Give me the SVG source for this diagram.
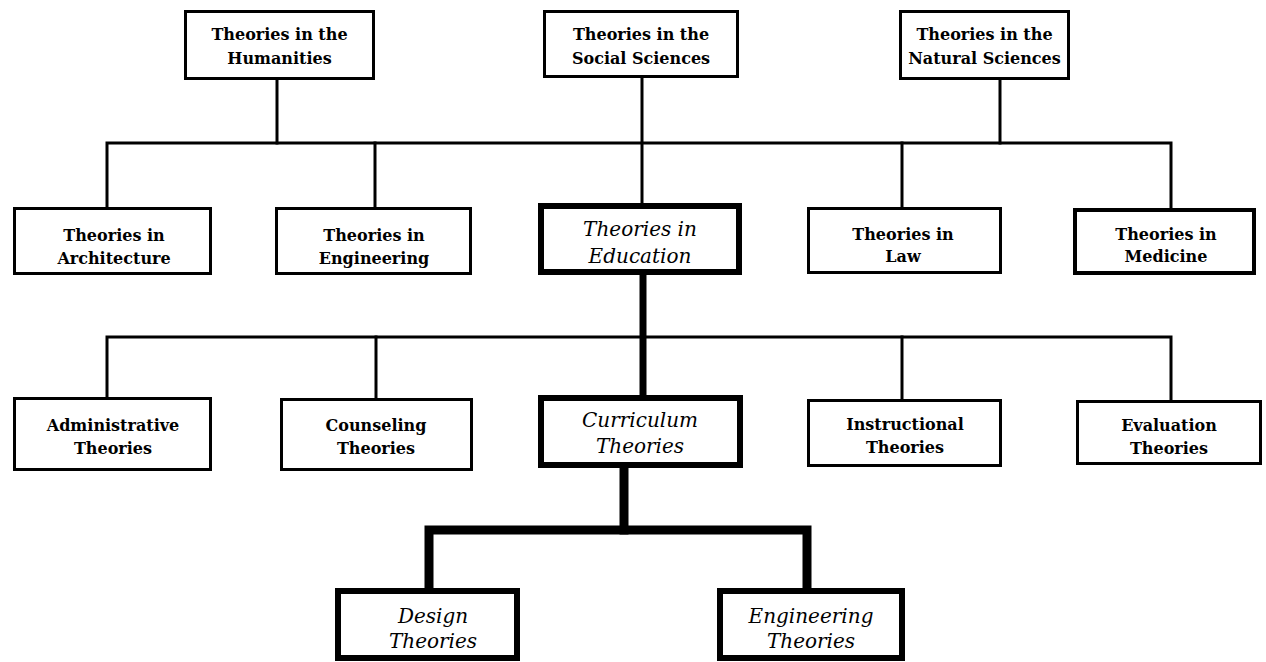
<svg xmlns="http://www.w3.org/2000/svg" width="1266" height="662" viewBox="0 0 1266 662">
<style>
.box{fill:#fff;stroke:#000;stroke-width:3}
.thick{stroke-width:6}
.ln{fill:none;stroke:#000;stroke-width:3;stroke-linecap:square}
.lnb{fill:none;stroke:#000;stroke-width:7;stroke-linecap:square}
.lnbb{fill:none;stroke:#000;stroke-width:9;stroke-linecap:square}
text{font-family:"DejaVu Serif","Liberation Serif",serif;text-anchor:middle;fill:#000}
.t{font-weight:bold;font-size:16px}
.it{font-style:italic;font-size:20px}
</style>
<rect width="1266" height="662" fill="#fff"/>
<g id="connectors">
<path class="ln" d="M277,80 V143"/>
<path class="ln" d="M1000,80 V143"/>
<path class="ln" d="M642,78 V203"/>
<path class="ln" d="M107,208 V143 H1171 V208"/>
<path class="ln" d="M375,143 V208"/>
<path class="ln" d="M902,143 V208"/>
<path class="ln" d="M107,398 V337 H1171 V400"/>
<path class="ln" d="M376,337 V398"/>
<path class="ln" d="M902,337 V399"/>
<path class="lnb" d="M643,275 V395"/>
<path class="lnbb" d="M624,468 V530"/>
<path class="lnbb" d="M429,588 V530 H807 V588"/>
</g>
<g id="humanities"><rect class="box" x="185.5" y="11.5" width="188" height="67"/><text class="t" x="279.5" y="40">Theories in the</text><text class="t" x="279.5" y="64">Humanities</text></g>
<g id="social"><rect class="box" x="544.5" y="11.5" width="193" height="65"/><text class="t" x="641" y="40">Theories in the</text><text class="t" x="641" y="64">Social Sciences</text></g>
<g id="natural"><rect class="box" x="900.5" y="11.5" width="168" height="67"/><text class="t" x="984.5" y="40">Theories in the</text><text class="t" x="984.5" y="64">Natural Sciences</text></g>
<g id="architecture"><rect class="box" x="14.5" y="208.5" width="196" height="65"/><text class="t" x="114" y="241">Theories in</text><text class="t" x="114" y="264">Architecture</text></g>
<g id="engineering"><rect class="box" x="276.5" y="208.5" width="194" height="65"/><text class="t" x="374" y="241">Theories in</text><text class="t" x="374" y="264">Engineering</text></g>
<g id="education"><rect class="box thick" x="541" y="206" width="198" height="66"/><text class="it" x="640" y="236">Theories in</text><text class="it" x="640" y="263">Education</text></g>
<g id="law"><rect class="box" x="808.5" y="208.5" width="192" height="64"/><text class="t" x="903" y="240">Theories in</text><text class="t" x="903" y="262">Law</text></g>
<g id="medicine"><rect class="box" x="1075" y="210" width="179" height="63" style="stroke-width:4"/><text class="t" x="1166" y="240">Theories in</text><text class="t" x="1166" y="262">Medicine</text></g>
<g id="administrative"><rect class="box" x="14.5" y="398.5" width="196" height="71"/><text class="t" x="113" y="431">Administrative</text><text class="t" x="113" y="454">Theories</text></g>
<g id="counseling"><rect class="box" x="281.5" y="399.5" width="190" height="70"/><text class="t" x="376" y="431">Counseling</text><text class="t" x="376" y="454">Theories</text></g>
<g id="curriculum"><rect class="box thick" x="541" y="398" width="199" height="67"/><text class="it" x="640" y="427">Curriculum</text><text class="it" x="640" y="453">Theories</text></g>
<g id="instructional"><rect class="box" x="808.5" y="400.5" width="192" height="65"/><text class="t" x="905" y="430">Instructional</text><text class="t" x="905" y="453">Theories</text></g>
<g id="evaluation"><rect class="box" x="1077.5" y="401.5" width="183" height="62"/><text class="t" x="1169" y="431">Evaluation</text><text class="t" x="1169" y="454">Theories</text></g>
<g id="design"><rect class="box thick" x="338" y="591" width="179" height="67"/><text class="it" x="433" y="623">Design</text><text class="it" x="433" y="648">Theories</text></g>
<g id="engineering-theories"><rect class="box thick" x="720" y="591" width="182" height="67"/><text class="it" x="811" y="623">Engineering</text><text class="it" x="811" y="648">Theories</text></g>
</svg>
